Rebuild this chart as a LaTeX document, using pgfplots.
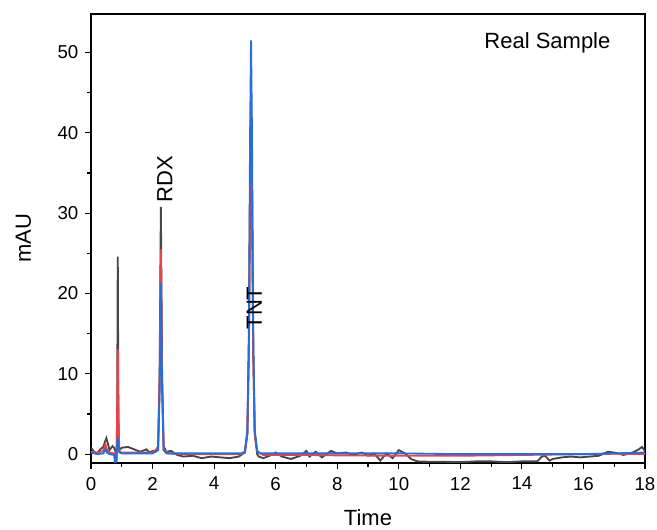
\documentclass[border=0pt]{standalone}
\usepackage{pgfplots}
\pgfplotsset{compat=1.18}
\usepackage{fontspec}
\setmainfont{Liberation Sans}
\definecolor{trgray}{HTML}{474747}
\definecolor{trred}{HTML}{E8434A}
\definecolor{trblue}{HTML}{2A6CD8}
\begin{document}
\begin{tikzpicture}
\useasboundingbox (-68.25pt,-50.25pt) rectangle (424.5pt,347.25pt);
\begin{axis}[
  scale only axis,
  width=415.5pt, height=336.75pt,
  xmin=0, xmax=18, ymin=-1.1, ymax=54.8,
  xtick={0,2,...,18}, ytick={0,10,...,50},
  minor x tick num=1, minor y tick num=1,
  tick align=outside, tick pos=left,
  major tick length=4.5pt, minor tick length=3pt,
  every tick/.style={black, line width=0.8pt},
  axis line style={line width=0.8pt},
  /pgf/number format/assume math mode=true,
  ticklabel style={font=\fontsize{14}{16}\selectfont},
  xticklabel style={yshift=-2.5pt},
  yticklabel style={xshift=-1.5pt},
  xlabel={Time}, ylabel={mAU},
  label style={font=\fontsize{16.5}{19}\selectfont},
  xlabel style={at={(axis description cs:0.5,-0.122)}, anchor=center},
  ylabel style={at={(axis description cs:-0.122,0.5)}, anchor=center},
  clip=true,
]
% gray trace
\addplot[trgray, line width=1.4pt] coordinates {
(0,0.8)(0.1,0.3)(0.2,0.1)(0.3,0.6)(0.4,0.9)(0.45,1.5)(0.5,2.0)(0.55,1.3)(0.6,0.5)
(0.7,1.0)(0.75,0.8)(0.8,0.3)(0.83,-1.0)(0.85,5)(0.87,24.6)(0.89,5)(0.91,0.5)
(1.0,0.8)(1.2,0.9)(1.4,0.6)(1.6,0.3)(1.8,0.6)(1.9,0.2)(2.0,0.4)(2.1,0.3)
(2.18,1)(2.23,10)(2.27,30.8)(2.31,10)(2.36,1)(2.45,0.3)(2.6,0.4)(2.8,-0.1)
(3.0,-0.3)(3.3,-0.2)(3.6,-0.5)(3.9,-0.3)(4.2,-0.4)(4.5,-0.5)(4.8,-0.3)(5.0,0.2)
(5.08,2.5)(5.13,13)(5.17,33)(5.20,43)(5.23,33)(5.27,13)(5.32,2.5)(5.40,0.0)
(5.45,-0.3)(5.6,-0.5)(5.8,-0.2)(6.0,0.2)(6.2,-0.3)(6.5,-0.6)(6.8,-0.2)(7.0,0.4)
(7.1,-0.3)(7.3,0.3)(7.5,-0.4)(7.8,0.4)(8.0,0.1)(8.3,0.2)(8.5,-0.1)(8.8,0.2)
(9.0,-0.2)(9.2,0.1)(9.4,-0.8)(9.6,0.1)(9.8,-0.5)(10.0,0.5)(10.2,0.1)(10.4,-0.6)
(10.6,-0.9)(11,-0.95)(11.5,-0.95)(12,-1.0)(12.5,-0.9)(13,-0.9)(13.5,-1.0)
(14.0,-0.9)(14.5,-0.9)(14.65,-0.3)(14.75,-0.2)(14.9,-0.8)(15.0,-0.6)(15.3,-0.4)
(15.6,-0.3)(15.9,-0.4)(16.2,-0.3)(16.5,-0.2)(16.8,0.3)(17.0,0.2)(17.3,-0.1)
(17.6,0.2)(17.8,0.6)(17.9,0.9)(18,0.4)
};
% red trace
\addplot[trred, line width=1.4pt] coordinates {
(0,0.3)(0.2,0.2)(0.4,0.4)(0.47,1.2)(0.52,0.5)(0.6,0.2)(0.75,0.1)(0.8,-0.5)
(0.83,0)(0.85,5)(0.87,13.1)(0.89,5)(0.92,0.3)(1.0,0.2)(2.0,0.2)(2.18,0.8)
(2.23,9)(2.27,25.5)(2.31,9)(2.36,0.6)(2.5,0.1)(3,0.0)(4,0.0)(4.9,0.0)(5.0,0.3)
(5.08,2.5)(5.13,13)(5.17,34)(5.20,43.6)(5.23,34)(5.27,13)(5.32,2.5)(5.40,0.3)
(5.6,-0.1)(7,-0.1)(8,-0.15)(10,-0.2)(12,-0.2)(14,-0.1)(15,-0.05)(16,0.0)
(17,0.05)(18,0.0)
};
% blue trace
\addplot[trblue, line width=1.4pt] coordinates {
(0,0.2)(0.2,0.0)(0.4,0.1)(0.47,0.6)(0.52,0.2)(0.6,0.0)(0.75,-0.1)(0.78,-1.1)
(0.8,-1.1)(0.83,-0.2)(0.87,2.1)(0.9,1.0)(0.93,0.2)(1.0,0.1)(1.5,0.1)(2.0,0.1)
(2.18,0.5)(2.23,8)(2.27,21.3)(2.31,8)(2.36,0.5)(2.45,0.1)(3.0,0.1)(4.0,0.1)
(4.9,0.1)(5.0,0.3)(5.08,3)(5.13,15)(5.17,40)(5.20,51.5)(5.23,40)(5.27,15)
(5.32,3)(5.40,0.4)(5.5,0.1)(7,0.1)(9,0.1)(10,0.1)(12,0.0)(14,0.0)(16,0.0)
(17,0.1)(18,0.2)
};
\node[rotate=90, font=\fontsize{16.5}{19}\selectfont] at (axis cs:2.40,34.2) {RDX};
\node[rotate=90, font=\fontsize{16.5}{19}\selectfont] at (axis cs:5.31,18.2) {TNT};
\node[font=\fontsize{16.5}{19}\selectfont] at (axis cs:14.83,51.2) {Real Sample};
\end{axis}
\end{tikzpicture}
\end{document}
